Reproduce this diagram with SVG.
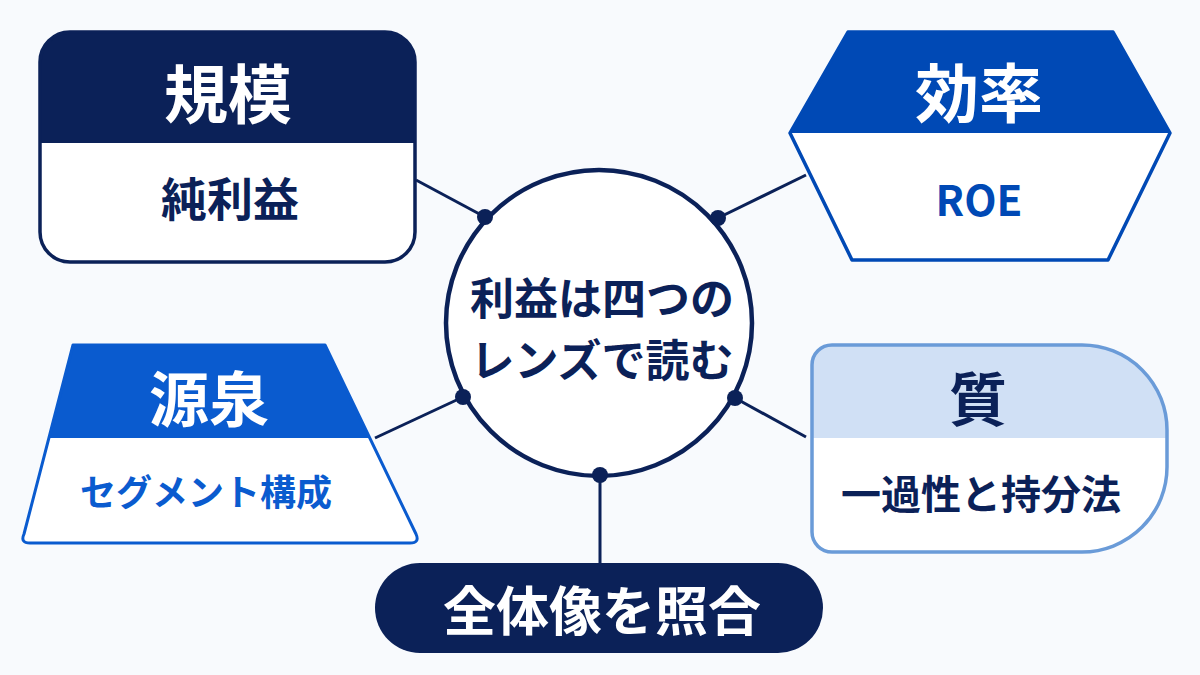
<svg xmlns="http://www.w3.org/2000/svg" width="1200" height="675" viewBox="0 0 1200 675">
<defs>
<style>
text{font-family:"Noto Sans CJK JP","Noto Sans",sans-serif;font-weight:700;text-anchor:middle;dominant-baseline:central}
.w{fill:#ffffff}
.navy{fill:#0b2158}
.blue{fill:#0049b5}
.conn{stroke:#0b2158;stroke-width:3;fill:none}
.dot{fill:#0b2158}
</style>
<clipPath id="c1"><rect x="40" y="32" width="375" height="230" rx="30"/></clipPath>
<clipPath id="c4"><path d="M832,345 L1082,345 A85,85 0 0 1 1167,430 L1167,467 A85,85 0 0 1 1082,552 L832,552 A20,20 0 0 1 812,532 L812,365 A20,20 0 0 1 832,345 Z"/></clipPath>
</defs>
<rect width="1200" height="675" fill="#f8fafd"/>
<g id="connectors">
<line class="conn" x1="416" y1="180" x2="485" y2="217"/>
<line class="conn" x1="806" y1="175" x2="718" y2="218"/>
<line class="conn" x1="375" y1="438" x2="463" y2="397"/>
<line class="conn" x1="806" y1="437" x2="735" y2="398"/>
<line class="conn" x1="600" y1="475" x2="600" y2="565"/>
</g>
<g id="center">
<circle cx="599" cy="323" r="153" fill="#ffffff" stroke="#0b2158" stroke-width="4.5"/>
<text class="navy" x="602" y="296" font-size="44">利益は四つの</text>
<text class="navy" x="602" y="358" font-size="44">レンズで読む</text>
</g>
<g id="dots">
<circle class="dot" cx="485" cy="217" r="8"/>
<circle class="dot" cx="718" cy="218" r="8"/>
<circle class="dot" cx="463" cy="397" r="8"/>
<circle class="dot" cx="735" cy="398" r="8"/>
<circle class="dot" cx="600" cy="475" r="8"/>
</g>
<g id="scale">
<rect x="40" y="32" width="375" height="230" rx="30" fill="#ffffff"/>
<rect x="40" y="32" width="375" height="111" fill="#0b2158" clip-path="url(#c1)"/>
<rect x="40" y="32" width="375" height="230" rx="30" fill="none" stroke="#0b2158" stroke-width="3.5"/>
<text class="w" x="228" y="90" font-size="64">規模</text>
<text class="navy" x="230" y="196" font-size="46">純利益</text>
</g>
<g id="efficiency">
<path d="M848,32 L1113,32 L1170,133 L1108,260 L852,260 L790,133 Z" fill="#ffffff"/>
<path d="M848,32 L1113,32 L1170,133 L790,133 Z" fill="#0049b5"/>
<path d="M848,32 L1113,32 L1170,133 L1108,260 L852,260 L790,133 Z" fill="none" stroke="#0049b5" stroke-width="3.5" stroke-linejoin="round"/>
<text class="w" x="979" y="89" font-size="64">効率</text>
<text class="blue" x="979" y="197" font-size="42">ROE</text>
</g>
<g id="source">
<path d="M73,345 L325,345 L416,534 Q420,543 410,543 L30,543 Q20,543 24,534 Z" fill="#ffffff"/>
<path d="M73,345 L325,345 L369,438 L49,438 Z" fill="#0a5bcf"/>
<path d="M73,345 L325,345 L416,534 Q420,543 410,543 L30,543 Q20,543 24,534 Z" fill="none" stroke="#0a5bcf" stroke-width="3" stroke-linejoin="round"/>
<text class="w" x="209" y="395" font-size="60">源泉</text>
<text x="206" y="490" font-size="36" fill="#0a5bcf">セグメント構成</text>
</g>
<g id="quality">
<path d="M832,345 L1082,345 A85,85 0 0 1 1167,430 L1167,467 A85,85 0 0 1 1082,552 L832,552 A20,20 0 0 1 812,532 L812,365 A20,20 0 0 1 832,345 Z" fill="#ffffff"/>
<rect x="812" y="345" width="355" height="93" fill="#d0e0f5" clip-path="url(#c4)"/>
<path d="M832,345 L1082,345 A85,85 0 0 1 1167,430 L1167,467 A85,85 0 0 1 1082,552 L832,552 A20,20 0 0 1 812,532 L812,365 A20,20 0 0 1 832,345 Z" fill="none" stroke="#6a9bd8" stroke-width="3.5"/>
<text class="navy" x="978" y="396" font-size="58">質</text>
<text class="navy" x="981" y="492" font-size="40">一過性と持分法</text>
</g>
<g id="overall">
<rect x="375" y="563" width="448" height="90" rx="45" fill="#0b2158"/>
<text class="w" x="602" y="608" font-size="53">全体像を照合</text>
</g>
</svg>
